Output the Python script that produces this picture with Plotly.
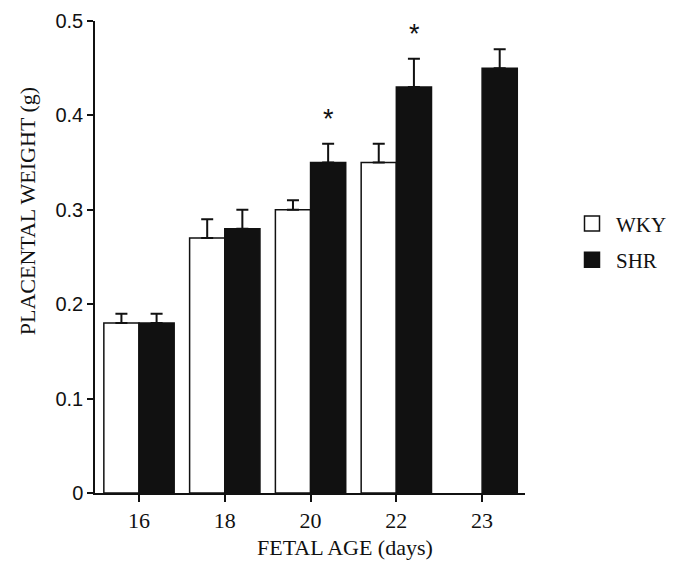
import plotly.graph_objects as go

ages = ["16", "18", "20", "22", "23"]
wky = [0.18, 0.27, 0.30, 0.35, None]
wky_err = [0.01, 0.02, 0.01, 0.02, 0]
shr = [0.18, 0.28, 0.35, 0.43, 0.45]
shr_err = [0.01, 0.02, 0.02, 0.03, 0.02]
shr_sig = [False, False, True, True, False]
y_ticks = [0, 0.1, 0.2, 0.3, 0.4, 0.5]
y_ticktext = ["0", "0.1", "0.2", "0.3", "0.4", "0.5"]

idx = list(range(len(ages)))
SERIF = "Liberation Serif"
SANS = "Liberation Sans"
INK = "#111111"

fig = go.Figure()
fig.add_trace(go.Bar(
    x=idx, y=wky, name="WKY", legendgroup="a", showlegend=False,
    marker=dict(color="white", line=dict(color=INK, width=1.5)),
    error_y=dict(type="data", symmetric=False, array=wky_err,
                 arrayminus=[0] * len(wky_err), color=INK, thickness=2, width=6),
))
fig.add_trace(go.Bar(
    x=idx, y=shr, name="SHR", legendgroup="b", showlegend=False,
    marker=dict(color=INK, line=dict(color=INK, width=1.5)),
    error_y=dict(type="data", symmetric=False, array=shr_err,
                 arrayminus=[0] * len(shr_err), color=INK, thickness=2, width=6),
))
# legend entries with larger square swatches
fig.add_trace(go.Scatter(
    x=[None], y=[None], mode="markers", name="WKY", legendgroup="a",
    marker=dict(symbol="square", size=15, color="white", line=dict(color=INK, width=1.5)),
))
fig.add_trace(go.Scatter(
    x=[None], y=[None], mode="markers", name="SHR", legendgroup="b",
    marker=dict(symbol="square", size=15, color=INK, line=dict(color=INK, width=1.5)),
))

annotations = []
for i, (v, e, s) in enumerate(zip(shr, shr_err, shr_sig)):
    if s:
        annotations.append(dict(
            x=i, y=v + e, xref="x", yref="y", text="*", showarrow=False,
            xshift=18, yshift=8, yanchor="bottom",
            font=dict(family=SANS, size=27, color=INK),
        ))
annotations.append(dict(
    x=0.581, y=-0.1165, xref="paper", yref="paper", text="FETAL AGE (days)",
    showarrow=False, xanchor="center", yanchor="middle",
    font=dict(family=SERIF, size=22, color=INK),
))
annotations.append(dict(
    x=-0.158, y=0.597, xref="paper", yref="paper", text="PLACENTAL WEIGHT (g)",
    showarrow=False, xanchor="center", yanchor="middle", textangle=-90,
    font=dict(family=SERIF, size=22, color=INK),
))

fig.update_layout(
    width=685, height=581,
    margin=dict(l=87, r=168, t=13, b=96, autoexpand=False),
    paper_bgcolor="white", plot_bgcolor="white",
    barmode="group", bargap=0.18, bargroupgap=0,
    showlegend=True,
    legend=dict(x=1.1, y=0.532, xanchor="left", yanchor="middle",
                font=dict(family=SERIF, size=21, color=INK), itemwidth=38,
                tracegroupgap=6, traceorder="grouped", bgcolor="rgba(0,0,0,0)"),
    annotations=annotations,
    xaxis=dict(
        range=[-0.513, 4.5], tickvals=idx, ticktext=ages, automargin=False,
        showline=True, linecolor=INK, linewidth=1.5,
        ticks="outside", ticklen=7, tickwidth=1.5, tickcolor=INK,
        showgrid=False, zeroline=False,
        tickfont=dict(family=SERIF, size=22, color=INK),
    ),
    yaxis=dict(
        range=[0, 0.5], tickvals=y_ticks, ticktext=y_ticktext, automargin=False,
        showline=True, linecolor=INK, linewidth=1.5,
        ticks="outside", ticklen=6, tickwidth=1.5, tickcolor=INK,
        showgrid=False, zeroline=False,
        tickfont=dict(family=SANS, size=20, color=INK),
    ),
)

fig.write_html("out.html")
